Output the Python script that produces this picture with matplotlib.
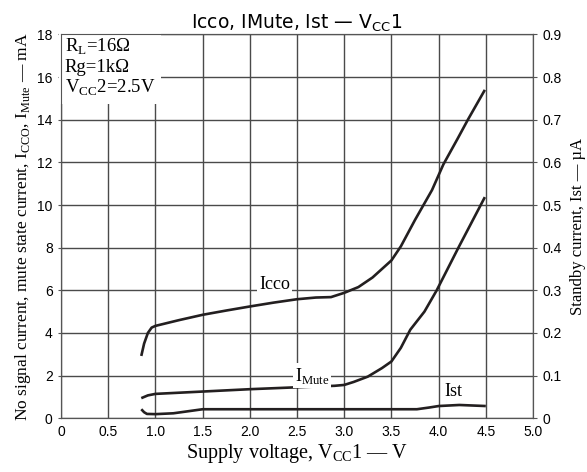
import matplotlib
matplotlib.use("Agg")
import matplotlib.pyplot as plt

# Supply voltage V_CC1 (V) and currents
icco_v = [0.85, 0.88, 0.92, 0.96, 1.0, 1.25, 1.5, 1.75, 2.0, 2.25, 2.5, 2.7, 2.86,
          3.0, 3.15, 3.3, 3.5, 3.6, 3.75, 3.93, 4.05, 4.2, 4.31, 4.49]
icco_ma = [2.92, 3.5, 4.0, 4.25, 4.33, 4.6, 4.85, 5.05, 5.24, 5.42, 5.58, 5.66, 5.68,
           5.88, 6.15, 6.6, 7.4, 8.06, 9.3, 10.7, 11.9, 13.1, 14.0, 15.4]

imute_v = [0.85, 0.92, 1.0, 1.5, 2.0, 2.5, 2.9, 3.0, 3.1, 3.25, 3.4, 3.5, 3.6, 3.7,
           3.85, 3.98, 4.21, 4.49]
imute_ma = [0.94, 1.07, 1.14, 1.25, 1.36, 1.45, 1.52, 1.56, 1.7, 1.95, 2.35, 2.66, 3.3,
            4.15, 5.0, 6.0, 8.0, 10.37]

ist_v = [0.85, 0.88, 0.91, 1.0, 1.19, 1.37, 1.5, 2.0, 3.0, 3.77, 3.9, 4.0, 4.22, 4.5]
ist_ua = [0.021, 0.014, 0.010, 0.0095, 0.0115, 0.017, 0.021, 0.021, 0.021, 0.021,
          0.025, 0.0285, 0.031, 0.0285]

x_ticks = [0, 0.5, 1.0, 1.5, 2.0, 2.5, 3.0, 3.5, 4.0, 4.5, 5.0]
x_labels = ["0", "0.5", "1.0", "1.5", "2.0", "2.5", "3.0", "3.5", "4.0", "4.5", "5.0"]
left_ticks = [0, 2, 4, 6, 8, 10, 12, 14, 16, 18]
right_ticks = [0, 0.1, 0.2, 0.3, 0.4, 0.5, 0.6, 0.7, 0.8, 0.9]
right_labels = ["0", "0.1", "0.2", "0.3", "0.4", "0.5", "0.6", "0.7", "0.8", "0.9"]

SANS = "Liberation Sans"
SERIF = "Liberation Serif"
LINE = "#231f20"
GRID = "#4a4a4a"
EDGE = "#555555"

plt.rcParams["font.family"] = SANS
plt.rcParams["mathtext.fontset"] = "custom"
plt.rcParams["mathtext.rm"] = SERIF
plt.rcParams["mathtext.sf"] = "DejaVu Sans"

fig = plt.figure(figsize=(5.87, 4.72), dpi=100)
ax = fig.add_axes([0.104, 0.114, 0.804, 0.813])

ax.plot(icco_v, icco_ma, color=LINE, lw=1.9, solid_capstyle="butt", zorder=3)
ax.plot(imute_v, imute_ma, color=LINE, lw=1.9, solid_capstyle="butt", zorder=3)

ax.set_xlim(0, 5)
ax.set_ylim(0, 18)
ax.set_xticks(x_ticks)
ax.set_xticklabels(x_labels)
ax.set_yticks(left_ticks)
ax.grid(True, color=GRID, lw=1.0)
ax.set_axisbelow(True)
ax.tick_params(axis="x", labelsize=10, length=0, pad=5)
ax.tick_params(axis="y", labelsize=10, length=2, pad=4, color=EDGE)
for s in ax.spines.values():
    s.set_color(EDGE)

ax.set_xlabel(r"Supply voltage, V$_\mathrm{CC}$1 — V", family=SERIF, fontsize=14.5, labelpad=2)
ax.set_ylabel(r"No signal current, mute state current, I$_\mathrm{CCO}$, I$_\mathrm{Mute}$ — mA",
              family=SERIF, fontsize=12.5, labelpad=3)
ax.set_title(r"Icco, IMute, Ist — V$_\mathsf{CC}$1", family="DejaVu Sans", fontsize=13.5, pad=2)

box = dict(facecolor="white", edgecolor="none", pad=1.5)
ax.text(2.26, 6.29, "Icco", family=SERIF, fontsize=13, ha="center", va="center", bbox=box, zorder=4)
ax.text(2.66, 2.0, r"I$_\mathrm{Mute}$", family=SERIF, fontsize=13, ha="center", va="center", bbox=box, zorder=4)
ax.text(4.16, 1.25, "Ist", family=SERIF, fontsize=13, ha="center", va="center", bbox=box, zorder=4)
ax.text(0.008, 0.993, "R$_\\mathrm{L}$=16Ω\nRg=1kΩ\nV$_\\mathrm{CC}$2=2.5V",
        transform=ax.transAxes, family=SERIF, fontsize=13.5, ha="left", va="top",
        linespacing=1.12, bbox=dict(facecolor="white", edgecolor="none", pad=4), zorder=4)

ax2 = ax.twinx()
ax2.plot(ist_v, ist_ua, color=LINE, lw=1.9, solid_capstyle="butt")
ax2.set_ylim(0, 0.9)
ax2.set_yticks(right_ticks)
ax2.set_yticklabels(right_labels)
ax2.tick_params(labelsize=10, length=3, pad=4, color=EDGE)
for s in ax2.spines.values():
    s.set_color(EDGE)
ax2.set_ylabel("Standby current, Ist — µA", family=SERIF, fontsize=12, labelpad=6)

fig.savefig("out.png", dpi=100)
